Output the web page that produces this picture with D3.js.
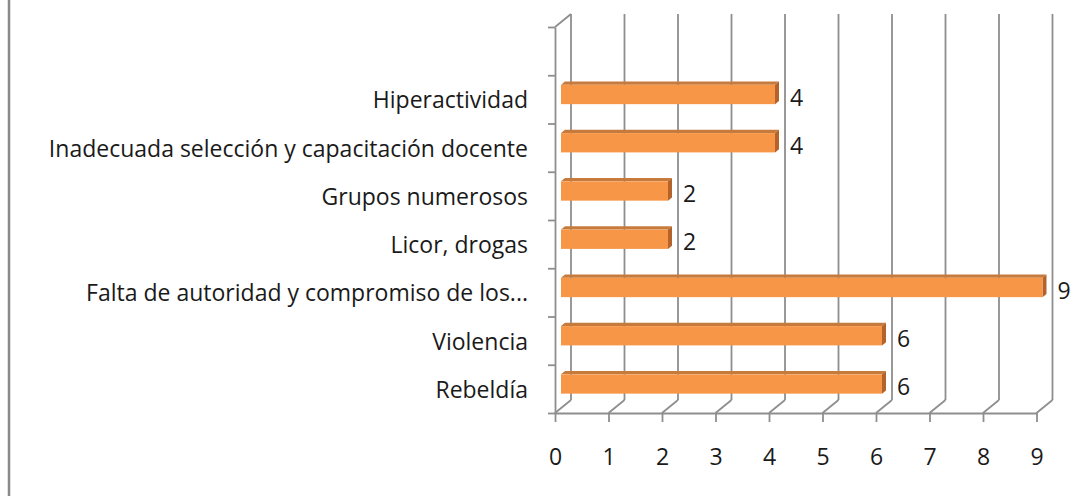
<!DOCTYPE html>
<html>
<head>
    <meta charset="utf-8">
    <title>Causas</title>
    <script src="https://d3js.org/d3.v7.min.js"></script>
    <style>
        body { margin: 0; background: #fff; }
        svg text { font-family: "Open Sans", Lato, sans-serif; fill: #1a1a1a; }
        .grid { stroke: #8e8e8e; stroke-width: 1.8; fill: none; }
        .axis path, .axis line { stroke: #8e8e8e; stroke-width: 1.8; }
    </style>
</head>
<body>
    <script>
        // categories listed top to bottom, as in the picture
        var categories = ["Hiperactividad", "Inadecuada selección y capacitación docente", "Grupos numerosos",
                          "Licor, drogas", "Falta de autoridad y compromiso de los...", "Violencia", "Rebeldía"];
        var values = [4, 4, 2, 2, 9, 6, 6];
        var xTicks = [0, 1, 2, 3, 4, 5, 6, 7, 8, 9];

        var width = 1086, height = 496;
        var depthX = 16, depthY = -13;   // offset of the back wall
        var fontSize = "23px";

        var svg = d3.select("body").append("svg")
            .attr("width", width)
            .attr("height", height);

        // left frame line
        svg.append("line")
            .attr("x1", 9).attr("x2", 9).attr("y1", 0).attr("y2", height)
            .attr("stroke", "#8a8a8a").attr("stroke-width", 2.5);

        var x = d3.scaleLinear().domain([0, 9]).range([555, 1036.5]);

        // one empty slot on top, then the categories
        var y = d3.scaleBand().domain(["_top"].concat(categories)).range([27, 413]);
        var yEdge = d3.scaleLinear().domain([0, 8]).range([27, 413]);

        // back wall vertical gridlines
        svg.selectAll(".vgrid").data(xTicks).enter().append("line")
            .attr("class", "grid")
            .attr("x1", d => x(d) + depthX).attr("x2", d => x(d) + depthX)
            .attr("y1", 27 + depthY).attr("y2", 413 + depthY);

        // floor diagonals
        svg.selectAll(".fgrid").data(xTicks).enter().append("line")
            .attr("class", "grid")
            .attr("x1", d => x(d)).attr("x2", d => x(d) + depthX)
            .attr("y1", 413).attr("y2", 413 + depthY);

        // top diagonal of the side wall
        svg.append("line").attr("class", "grid")
            .attr("x1", x(0)).attr("y1", 27)
            .attr("x2", x(0) + depthX).attr("y2", 27 + depthY);

        // x axis
        var xAxis = svg.append("g")
            .attr("class", "axis")
            .attr("transform", "translate(0,413)")
            .call(d3.axisBottom(x).tickValues(xTicks).tickSize(9).tickSizeOuter(0).tickPadding(27));
        xAxis.selectAll("text").style("font-size", fontSize).attr("fill", "#1a1a1a");

        // category axis (ticks only)
        svg.append("g")
            .attr("class", "axis")
            .attr("transform", "translate(" + x(0) + ",0)")
            .call(d3.axisLeft(yEdge).tickValues(d3.range(9)).tickSize(7).tickSizeOuter(0).tickFormat(""));

        // category labels
        svg.selectAll(".cat").data(categories).enter().append("text")
            .attr("x", 528)
            .attr("y", d => y(d) + y.bandwidth() / 2 + 9)
            .attr("text-anchor", "end")
            .style("font-size", fontSize)
            .text(d => d);

        // 3D bars
        var f1 = 0.375, f2 = 0.625;
        var barH = y.bandwidth() * 0.4;
        var data = categories.map((c, i) => ({ cat: c, val: values[i] }));

        var bars = svg.selectAll(".bar").data(data).enter().append("g");

        bars.each(function(d) {
            var g = d3.select(this);
            var ax = depthX * f1, ay = depthY * f1;
            var bx = depthX * f2, by = depthY * f2;
            var cy = y(d.cat) + y.bandwidth() / 2;
            var x0 = x(0), x1 = x(d.val);
            var top = cy - barH / 2, bot = cy + barH / 2;
            // top face
            g.append("path")
                .attr("d", "M" + (x0 + ax) + "," + (top + ay) + "L" + (x1 + ax) + "," + (top + ay) +
                      "L" + (x1 + bx) + "," + (top + by) + "L" + (x0 + bx) + "," + (top + by) + "Z")
                .attr("fill", "#c67a3c");
            // side face
            g.append("path")
                .attr("d", "M" + (x1 + ax) + "," + (top + ay) + "L" + (x1 + bx) + "," + (top + by) +
                      "L" + (x1 + bx) + "," + (bot + by) + "L" + (x1 + ax) + "," + (bot + ay) + "Z")
                .attr("fill", "#b4642a");
            // front face
            g.append("rect")
                .attr("x", x0 + ax).attr("y", top + ay)
                .attr("width", x1 - x0).attr("height", barH)
                .attr("fill", "#f79646");
            // value label
            g.append("text")
                .attr("x", x1 + bx + 11)
                .attr("y", cy + ay + 11)
                .style("font-size", fontSize)
                .text(d.val);
        });
    </script>
</body>
</html>
